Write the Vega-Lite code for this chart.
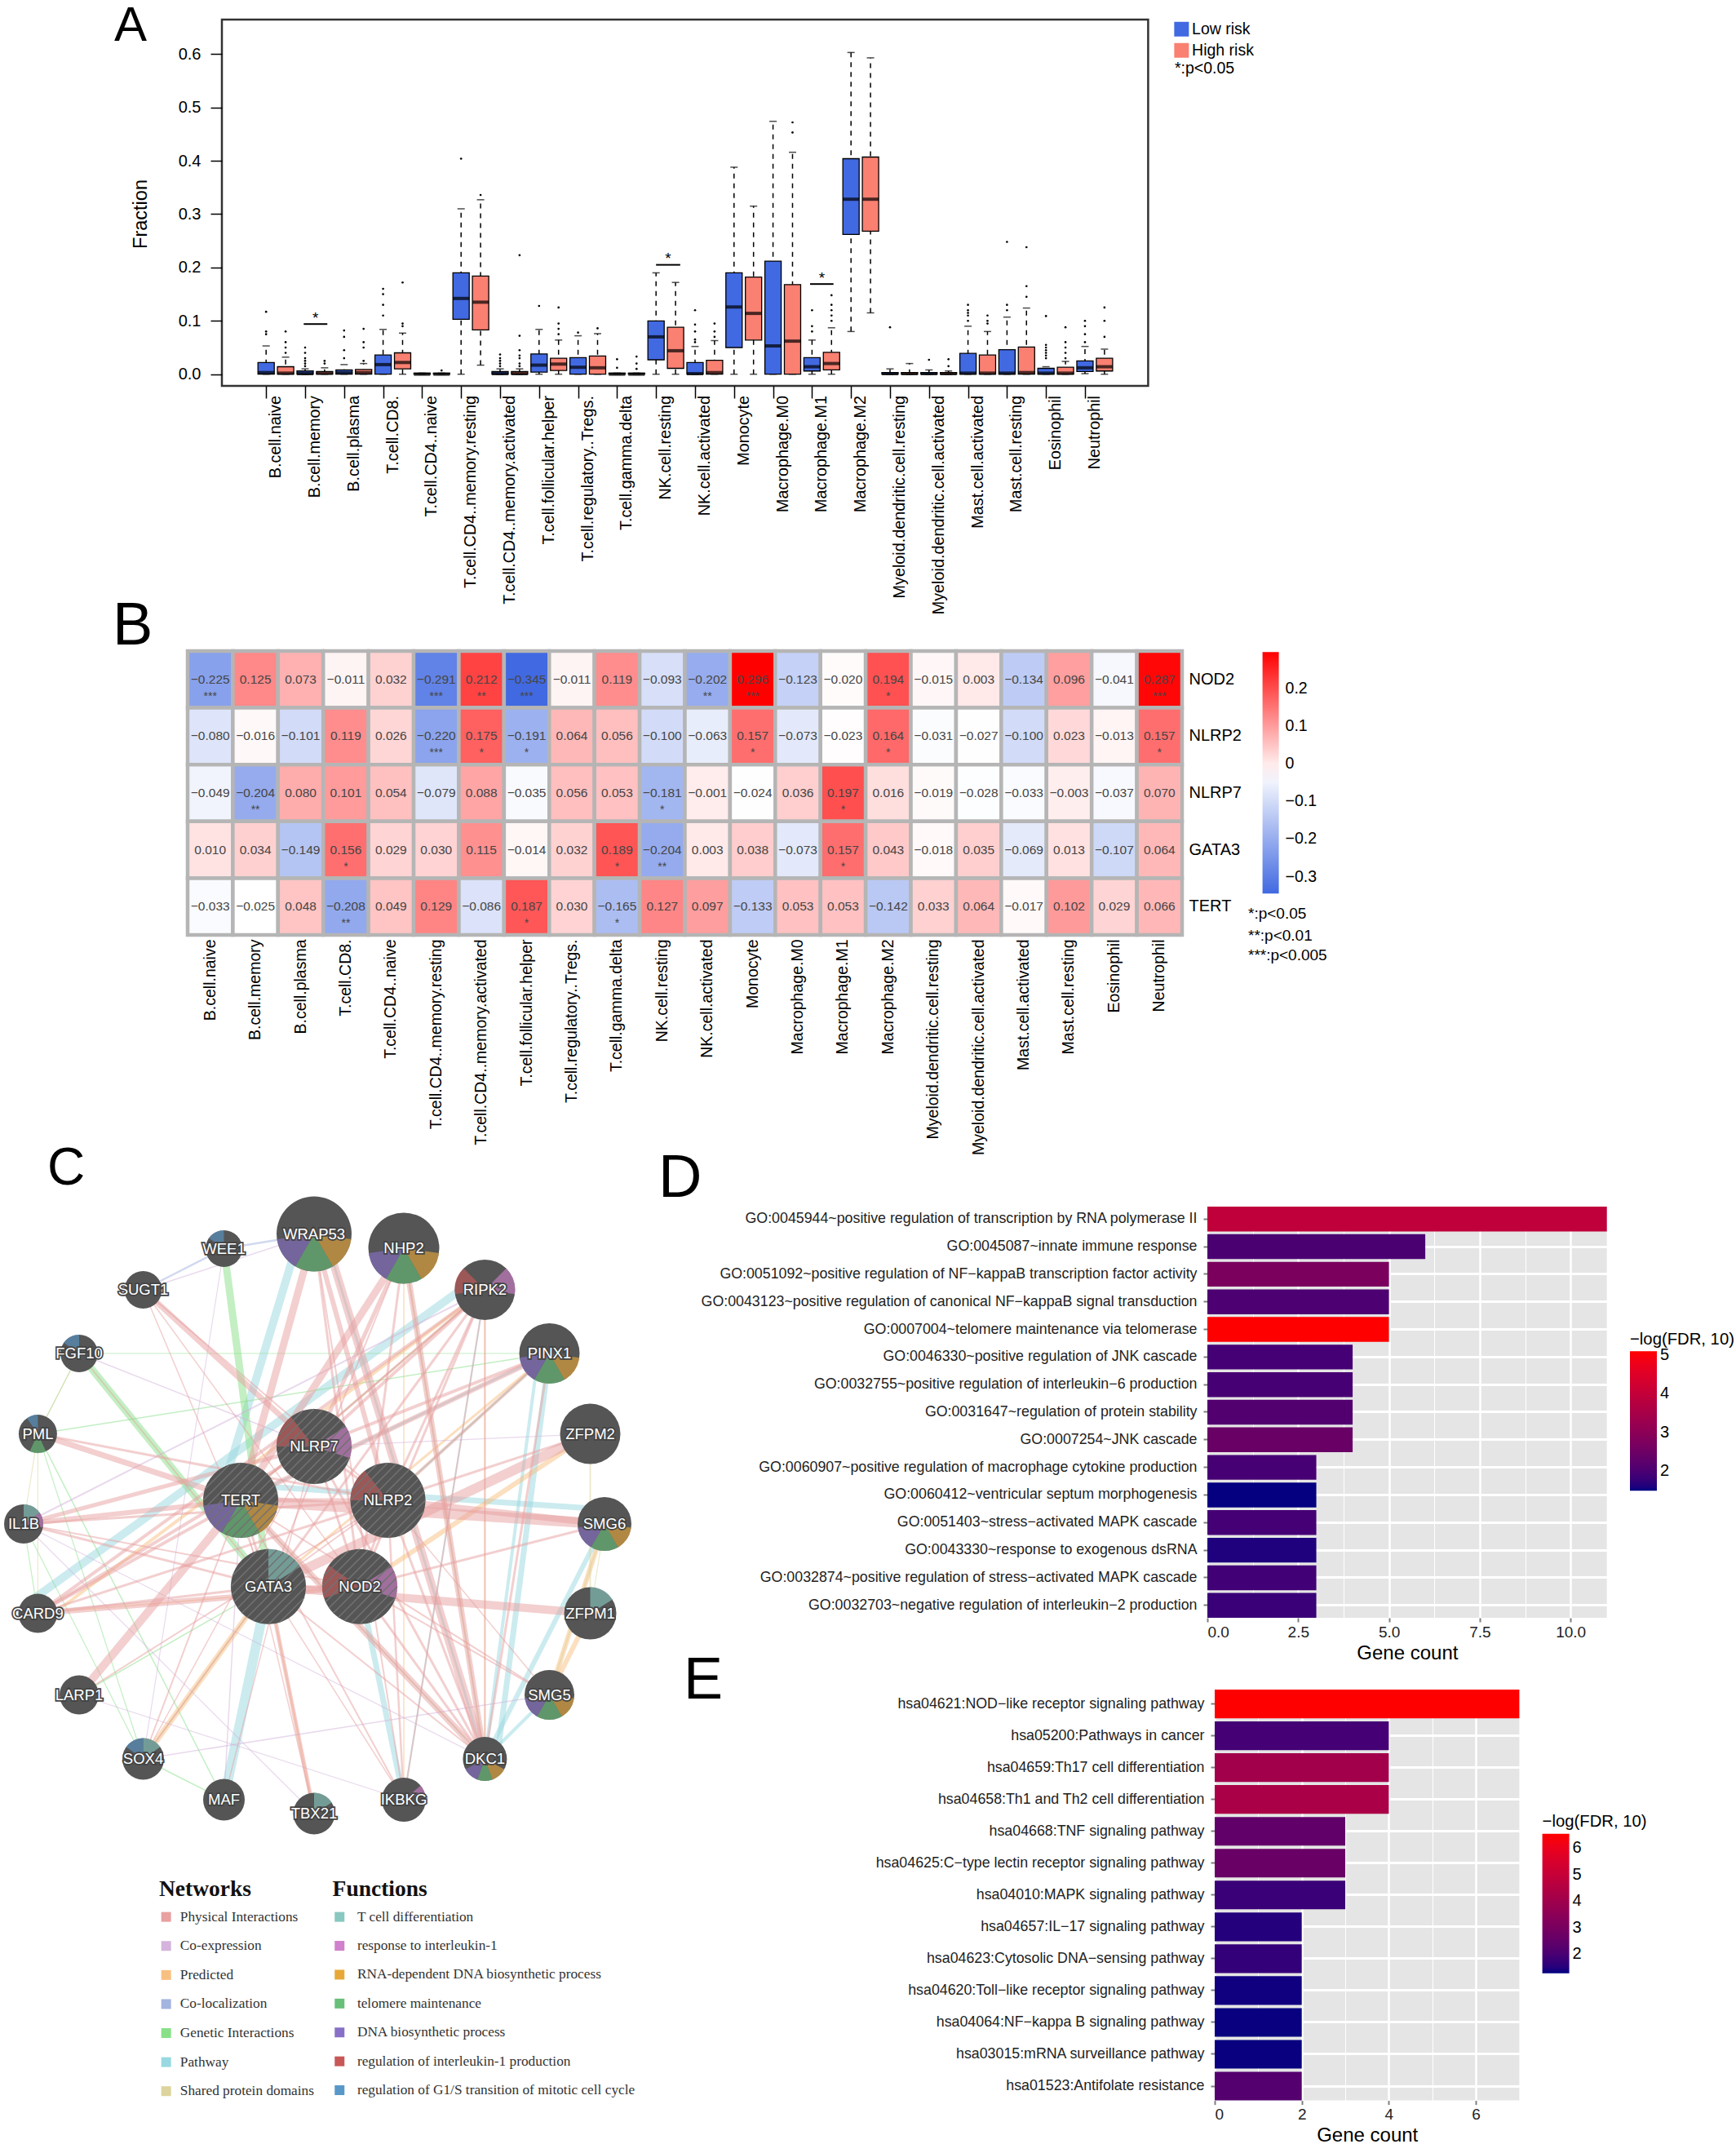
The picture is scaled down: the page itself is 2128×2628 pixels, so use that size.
{"$schema":"https://vega.github.io/schema/vega-lite/v6.json","background":"white","padding":0,"bounds":"flush","spacing":0,
"config":{"font":"Liberation Sans","view":{"stroke":null},"axis":{"grid":false,"titleFontWeight":"normal"},"concat":{"spacing":0}},
"datasets":{
"boxes":[
{"p":0,"g":"Low risk","lo":0,"q1":0,"m":0.003,"q3":0.022,"hi":0.053},{"p":1,"g":"High risk","lo":0,"q1":0,"m":0.002,"q3":0.014,"hi":0.032},
{"p":2,"g":"Low risk","lo":0,"q1":0,"m":0.001,"q3":0.006,"hi":0.01},{"p":3,"g":"High risk","lo":0,"q1":0,"m":0.002,"q3":0.005,"hi":0.012},
{"p":4,"g":"Low risk","lo":0,"q1":0,"m":0.003,"q3":0.008,"hi":0.018},{"p":5,"g":"High risk","lo":0,"q1":0,"m":0.003,"q3":0.009,"hi":0.02},
{"p":6,"g":"Low risk","lo":0,"q1":0,"m":0.018,"q3":0.036,"hi":0.084},{"p":7,"g":"High risk","lo":0,"q1":0.01,"m":0.022,"q3":0.04,"hi":0.077},
{"p":8,"g":"Low risk","lo":0,"q1":0,"m":0,"q3":0.002,"hi":0.002},{"p":9,"g":"High risk","lo":0,"q1":0,"m":0,"q3":0.002,"hi":0.002},
{"p":10,"g":"Low risk","lo":0,"q1":0.103,"m":0.142,"q3":0.19,"hi":0.31},{"p":11,"g":"High risk","lo":0.017,"q1":0.083,"m":0.135,"q3":0.184,"hi":0.327},
{"p":12,"g":"Low risk","lo":0,"q1":0,"m":0.001,"q3":0.005,"hi":0.01},{"p":13,"g":"High risk","lo":0,"q1":0,"m":0.001,"q3":0.005,"hi":0.01},
{"p":14,"g":"Low risk","lo":0,"q1":0.004,"m":0.017,"q3":0.038,"hi":0.084},{"p":15,"g":"High risk","lo":0,"q1":0.007,"m":0.019,"q3":0.03,"hi":0.064},
{"p":16,"g":"Low risk","lo":0,"q1":0,"m":0.013,"q3":0.031,"hi":0.072},{"p":17,"g":"High risk","lo":0,"q1":0,"m":0.012,"q3":0.034,"hi":0.076},
{"p":18,"g":"Low risk","lo":0,"q1":0,"m":0,"q3":0.002,"hi":0.002},{"p":19,"g":"High risk","lo":0,"q1":0,"m":0,"q3":0.002,"hi":0.002},
{"p":20,"g":"Low risk","lo":0,"q1":0.027,"m":0.07,"q3":0.1,"hi":0.19},{"p":21,"g":"High risk","lo":0,"q1":0.011,"m":0.044,"q3":0.088,"hi":0.172},
{"p":22,"g":"Low risk","lo":0,"q1":0,"m":0.001,"q3":0.022,"hi":0.052},{"p":23,"g":"High risk","lo":0,"q1":0,"m":0.003,"q3":0.026,"hi":0.063},
{"p":24,"g":"Low risk","lo":0,"q1":0.05,"m":0.126,"q3":0.19,"hi":0.388},{"p":25,"g":"High risk","lo":0,"q1":0.064,"m":0.114,"q3":0.182,"hi":0.315},
{"p":26,"g":"Low risk","lo":0,"q1":0,"m":0.053,"q3":0.212,"hi":0.474},{"p":27,"g":"High risk","lo":0,"q1":0,"m":0.062,"q3":0.168,"hi":0.416},
{"p":28,"g":"Low risk","lo":0,"q1":0.006,"m":0.014,"q3":0.031,"hi":0.064},{"p":29,"g":"High risk","lo":0,"q1":0.008,"m":0.02,"q3":0.041,"hi":0.087},
{"p":30,"g":"Low risk","lo":0.08,"q1":0.262,"m":0.328,"q3":0.404,"hi":0.603},{"p":31,"g":"High risk","lo":0.115,"q1":0.268,"m":0.328,"q3":0.407,"hi":0.593},
{"p":32,"g":"Low risk","lo":0,"q1":0,"m":0.001,"q3":0.003,"hi":0.01},{"p":33,"g":"High risk","lo":0,"q1":0,"m":0.001,"q3":0.003,"hi":0.02},
{"p":34,"g":"Low risk","lo":0,"q1":0,"m":0.001,"q3":0.003,"hi":0.008},{"p":35,"g":"High risk","lo":0,"q1":0,"m":0.001,"q3":0.003,"hi":0.006},
{"p":36,"g":"Low risk","lo":0,"q1":0,"m":0.002,"q3":0.039,"hi":0.09},{"p":37,"g":"High risk","lo":0,"q1":0,"m":0.002,"q3":0.036,"hi":0.08},
{"p":38,"g":"Low risk","lo":0,"q1":0,"m":0.002,"q3":0.046,"hi":0.107},{"p":39,"g":"High risk","lo":0,"q1":0,"m":0.003,"q3":0.051,"hi":0.124},
{"p":40,"g":"Low risk","lo":0,"q1":0,"m":0.002,"q3":0.011,"hi":0.014},{"p":41,"g":"High risk","lo":0,"q1":0,"m":0.002,"q3":0.013,"hi":0.024},
{"p":42,"g":"Low risk","lo":0.001,"q1":0.005,"m":0.012,"q3":0.025,"hi":0.052},{"p":43,"g":"High risk","lo":0,"q1":0.006,"m":0.014,"q3":0.03,"hi":0.047}],
"outliers":[
{"p":0,"v":0.075},{"p":0,"v":0.08},{"p":0,"v":0.117},{"p":1,"v":0.04},{"p":1,"v":0.05},{"p":1,"v":0.06},{"p":1,"v":0.08},
{"p":2,"v":0.015},{"p":2,"v":0.02},{"p":2,"v":0.025},{"p":2,"v":0.03},{"p":2,"v":0.04},{"p":2,"v":0.05},{"p":3,"v":0.02},{"p":3,"v":0.025},
{"p":4,"v":0.03},{"p":4,"v":0.045},{"p":4,"v":0.07},{"p":4,"v":0.082},{"p":5,"v":0.025},{"p":5,"v":0.05},{"p":5,"v":0.06},{"p":5,"v":0.085},
{"p":6,"v":0.11},{"p":6,"v":0.13},{"p":6,"v":0.15},{"p":6,"v":0.16},{"p":7,"v":0.09},{"p":7,"v":0.095},{"p":7,"v":0.172},{"p":9,"v":0.007},
{"p":10,"v":0.404},{"p":11,"v":0.336},
{"p":12,"v":0.015},{"p":12,"v":0.02},{"p":12,"v":0.025},{"p":12,"v":0.03},{"p":12,"v":0.037},{"p":13,"v":0.015},{"p":13,"v":0.02},{"p":13,"v":0.03},{"p":13,"v":0.035},{"p":13,"v":0.045},{"p":13,"v":0.072},{"p":13,"v":0.223},
{"p":14,"v":0.128},{"p":15,"v":0.075},{"p":15,"v":0.085},{"p":15,"v":0.095},{"p":15,"v":0.125},{"p":16,"v":0.078},{"p":17,"v":0.086},
{"p":18,"v":0.012},{"p":18,"v":0.028},{"p":19,"v":0.01},{"p":19,"v":0.02},{"p":19,"v":0.033},
{"p":22,"v":0.06},{"p":22,"v":0.065},{"p":22,"v":0.08},{"p":22,"v":0.093},{"p":22,"v":0.12},{"p":23,"v":0.07},{"p":23,"v":0.08},{"p":23,"v":0.095},
{"p":27,"v":0.453},{"p":27,"v":0.472},
{"p":28,"v":0.08},{"p":28,"v":0.09},{"p":28,"v":0.12},{"p":29,"v":0.1},{"p":29,"v":0.11},{"p":29,"v":0.12},{"p":29,"v":0.13},{"p":29,"v":0.148},
{"p":32,"v":0.088},{"p":34,"v":0.027},{"p":35,"v":0.015},{"p":35,"v":0.028},
{"p":36,"v":0.1},{"p":36,"v":0.11},{"p":36,"v":0.115},{"p":36,"v":0.12},{"p":36,"v":0.13},{"p":37,"v":0.095},{"p":37,"v":0.1},{"p":37,"v":0.11},
{"p":38,"v":0.12},{"p":38,"v":0.13},{"p":38,"v":0.248},{"p":39,"v":0.145},{"p":39,"v":0.165},{"p":39,"v":0.238},
{"p":40,"v":0.03},{"p":40,"v":0.035},{"p":40,"v":0.04},{"p":40,"v":0.045},{"p":40,"v":0.05},{"p":40,"v":0.055},{"p":40,"v":0.109},{"p":41,"v":0.03},{"p":41,"v":0.04},{"p":41,"v":0.05},{"p":41,"v":0.06},{"p":41,"v":0.088},
{"p":42,"v":0.06},{"p":42,"v":0.075},{"p":42,"v":0.09},{"p":42,"v":0.1},{"p":43,"v":0.07},{"p":43,"v":0.1},{"p":43,"v":0.125}],
"cells":[{"name":"B.cell.naive","p":0.5},{"name":"B.cell.memory","p":2.5},{"name":"B.cell.plasma","p":4.5},{"name":"T.cell.CD8.","p":6.5},{"name":"T.cell.CD4..naive","p":8.5},{"name":"T.cell.CD4..memory.resting","p":10.5},{"name":"T.cell.CD4..memory.activated","p":12.5},{"name":"T.cell.follicular.helper","p":14.5},{"name":"T.cell.regulatory..Tregs.","p":16.5},{"name":"T.cell.gamma.delta","p":18.5},{"name":"NK.cell.resting","p":20.5},{"name":"NK.cell.activated","p":22.5},{"name":"Monocyte","p":24.5},{"name":"Macrophage.M0","p":26.5},{"name":"Macrophage.M1","p":28.5},{"name":"Macrophage.M2","p":30.5},{"name":"Myeloid.dendritic.cell.resting","p":32.5},{"name":"Myeloid.dendritic.cell.activated","p":34.5},{"name":"Mast.cell.activated","p":36.5},{"name":"Mast.cell.resting","p":38.5},{"name":"Eosinophil","p":40.5},{"name":"Neutrophil","p":42.5}],
"heat":[
{"g":"NOD2","c":"B.cell.naive","r":-0.225,"s":"***"},{"g":"NOD2","c":"B.cell.memory","r":0.125},{"g":"NOD2","c":"B.cell.plasma","r":0.073},{"g":"NOD2","c":"T.cell.CD8.","r":-0.011},{"g":"NOD2","c":"T.cell.CD4..naive","r":0.032},{"g":"NOD2","c":"T.cell.CD4..memory.resting","r":-0.291,"s":"***"},{"g":"NOD2","c":"T.cell.CD4..memory.activated","r":0.212,"s":"**"},{"g":"NOD2","c":"T.cell.follicular.helper","r":-0.345,"s":"***"},{"g":"NOD2","c":"T.cell.regulatory..Tregs.","r":-0.011},{"g":"NOD2","c":"T.cell.gamma.delta","r":0.119},{"g":"NOD2","c":"NK.cell.resting","r":-0.093},{"g":"NOD2","c":"NK.cell.activated","r":-0.202,"s":"**"},{"g":"NOD2","c":"Monocyte","r":0.296,"s":"***"},{"g":"NOD2","c":"Macrophage.M0","r":-0.123},{"g":"NOD2","c":"Macrophage.M1","r":-0.02},{"g":"NOD2","c":"Macrophage.M2","r":0.194,"s":"*"},{"g":"NOD2","c":"Myeloid.dendritic.cell.resting","r":-0.015},{"g":"NOD2","c":"Myeloid.dendritic.cell.activated","r":0.003},{"g":"NOD2","c":"Mast.cell.activated","r":-0.134},{"g":"NOD2","c":"Mast.cell.resting","r":0.096},{"g":"NOD2","c":"Eosinophil","r":-0.041},{"g":"NOD2","c":"Neutrophil","r":0.287,"s":"***"},
{"g":"NLRP2","c":"B.cell.naive","r":-0.08},{"g":"NLRP2","c":"B.cell.memory","r":-0.016},{"g":"NLRP2","c":"B.cell.plasma","r":-0.101},{"g":"NLRP2","c":"T.cell.CD8.","r":0.119},{"g":"NLRP2","c":"T.cell.CD4..naive","r":0.026},{"g":"NLRP2","c":"T.cell.CD4..memory.resting","r":-0.22,"s":"***"},{"g":"NLRP2","c":"T.cell.CD4..memory.activated","r":0.175,"s":"*"},{"g":"NLRP2","c":"T.cell.follicular.helper","r":-0.191,"s":"*"},{"g":"NLRP2","c":"T.cell.regulatory..Tregs.","r":0.064},{"g":"NLRP2","c":"T.cell.gamma.delta","r":0.056},{"g":"NLRP2","c":"NK.cell.resting","r":-0.1},{"g":"NLRP2","c":"NK.cell.activated","r":-0.063},{"g":"NLRP2","c":"Monocyte","r":0.157,"s":"*"},{"g":"NLRP2","c":"Macrophage.M0","r":-0.073},{"g":"NLRP2","c":"Macrophage.M1","r":-0.023},{"g":"NLRP2","c":"Macrophage.M2","r":0.164,"s":"*"},{"g":"NLRP2","c":"Myeloid.dendritic.cell.resting","r":-0.031},{"g":"NLRP2","c":"Myeloid.dendritic.cell.activated","r":-0.027},{"g":"NLRP2","c":"Mast.cell.activated","r":-0.1},{"g":"NLRP2","c":"Mast.cell.resting","r":0.023},{"g":"NLRP2","c":"Eosinophil","r":-0.013},{"g":"NLRP2","c":"Neutrophil","r":0.157,"s":"*"},
{"g":"NLRP7","c":"B.cell.naive","r":-0.049},{"g":"NLRP7","c":"B.cell.memory","r":-0.204,"s":"**"},{"g":"NLRP7","c":"B.cell.plasma","r":0.08},{"g":"NLRP7","c":"T.cell.CD8.","r":0.101},{"g":"NLRP7","c":"T.cell.CD4..naive","r":0.054},{"g":"NLRP7","c":"T.cell.CD4..memory.resting","r":-0.079},{"g":"NLRP7","c":"T.cell.CD4..memory.activated","r":0.088},{"g":"NLRP7","c":"T.cell.follicular.helper","r":-0.035},{"g":"NLRP7","c":"T.cell.regulatory..Tregs.","r":0.056},{"g":"NLRP7","c":"T.cell.gamma.delta","r":0.053},{"g":"NLRP7","c":"NK.cell.resting","r":-0.181,"s":"*"},{"g":"NLRP7","c":"NK.cell.activated","r":-0.001},{"g":"NLRP7","c":"Monocyte","r":-0.024},{"g":"NLRP7","c":"Macrophage.M0","r":0.036},{"g":"NLRP7","c":"Macrophage.M1","r":0.197,"s":"*"},{"g":"NLRP7","c":"Macrophage.M2","r":0.016},{"g":"NLRP7","c":"Myeloid.dendritic.cell.resting","r":-0.019},{"g":"NLRP7","c":"Myeloid.dendritic.cell.activated","r":-0.028},{"g":"NLRP7","c":"Mast.cell.activated","r":-0.033},{"g":"NLRP7","c":"Mast.cell.resting","r":-0.003},{"g":"NLRP7","c":"Eosinophil","r":-0.037},{"g":"NLRP7","c":"Neutrophil","r":0.07},
{"g":"GATA3","c":"B.cell.naive","r":0.01},{"g":"GATA3","c":"B.cell.memory","r":0.034},{"g":"GATA3","c":"B.cell.plasma","r":-0.149},{"g":"GATA3","c":"T.cell.CD8.","r":0.156,"s":"*"},{"g":"GATA3","c":"T.cell.CD4..naive","r":0.029},{"g":"GATA3","c":"T.cell.CD4..memory.resting","r":0.03},{"g":"GATA3","c":"T.cell.CD4..memory.activated","r":0.115},{"g":"GATA3","c":"T.cell.follicular.helper","r":-0.014},{"g":"GATA3","c":"T.cell.regulatory..Tregs.","r":0.032},{"g":"GATA3","c":"T.cell.gamma.delta","r":0.189,"s":"*"},{"g":"GATA3","c":"NK.cell.resting","r":-0.204,"s":"**"},{"g":"GATA3","c":"NK.cell.activated","r":0.003},{"g":"GATA3","c":"Monocyte","r":0.038},{"g":"GATA3","c":"Macrophage.M0","r":-0.073},{"g":"GATA3","c":"Macrophage.M1","r":0.157,"s":"*"},{"g":"GATA3","c":"Macrophage.M2","r":0.043},{"g":"GATA3","c":"Myeloid.dendritic.cell.resting","r":-0.018},{"g":"GATA3","c":"Myeloid.dendritic.cell.activated","r":0.035},{"g":"GATA3","c":"Mast.cell.activated","r":-0.069},{"g":"GATA3","c":"Mast.cell.resting","r":0.013},{"g":"GATA3","c":"Eosinophil","r":-0.107},{"g":"GATA3","c":"Neutrophil","r":0.064},
{"g":"TERT","c":"B.cell.naive","r":-0.033},{"g":"TERT","c":"B.cell.memory","r":-0.025},{"g":"TERT","c":"B.cell.plasma","r":0.048},{"g":"TERT","c":"T.cell.CD8.","r":-0.208,"s":"**"},{"g":"TERT","c":"T.cell.CD4..naive","r":0.049},{"g":"TERT","c":"T.cell.CD4..memory.resting","r":0.129},{"g":"TERT","c":"T.cell.CD4..memory.activated","r":-0.086},{"g":"TERT","c":"T.cell.follicular.helper","r":0.187,"s":"*"},{"g":"TERT","c":"T.cell.regulatory..Tregs.","r":0.03},{"g":"TERT","c":"T.cell.gamma.delta","r":-0.165,"s":"*"},{"g":"TERT","c":"NK.cell.resting","r":0.127},{"g":"TERT","c":"NK.cell.activated","r":0.097},{"g":"TERT","c":"Monocyte","r":-0.133},{"g":"TERT","c":"Macrophage.M0","r":0.053},{"g":"TERT","c":"Macrophage.M1","r":0.053},{"g":"TERT","c":"Macrophage.M2","r":-0.142},{"g":"TERT","c":"Myeloid.dendritic.cell.resting","r":0.033},{"g":"TERT","c":"Myeloid.dendritic.cell.activated","r":0.064},{"g":"TERT","c":"Mast.cell.activated","r":-0.017},{"g":"TERT","c":"Mast.cell.resting","r":0.102},{"g":"TERT","c":"Eosinophil","r":0.029},{"g":"TERT","c":"Neutrophil","r":0.066}],
"nodes":[
{"id":"WRAP53","x":385,"y":1512.5,"score":46},{"id":"NHP2","x":495,"y":1530,"score":43.5},{"id":"WEE1","x":274.5,"y":1530.5,"score":22.5},{"id":"SUGT1","x":175.5,"y":1581,"score":23},{"id":"RIPK2","x":594.4,"y":1581,"score":37},{"id":"FGF10","x":97,"y":1659,"score":23},{"id":"PINX1","x":673.5,"y":1659,"score":37},{"id":"PML","x":46.4,"y":1757.6,"score":23.5},{"id":"ZFPM2","x":723.5,"y":1757.6,"score":37},{"id":"NLRP7","x":385,"y":1773,"score":46,"q":1},{"id":"TERT","x":295,"y":1839,"score":46,"q":1},{"id":"NLRP2","x":475.5,"y":1839,"score":46,"q":1},{"id":"IL1B","x":29,"y":1868,"score":24},{"id":"SMG6","x":741,"y":1868,"score":33},{"id":"GATA3","x":329,"y":1944.7,"score":46,"q":1},{"id":"NOD2","x":441,"y":1944.7,"score":46,"q":1},{"id":"CARD9","x":46.4,"y":1977.6,"score":24},{"id":"ZFPM1","x":723.5,"y":1977.6,"score":32},{"id":"LARP1","x":97,"y":2077.5,"score":24},{"id":"SMG5","x":673.5,"y":2077.5,"score":30.5},{"id":"SOX4","x":175.5,"y":2156,"score":25.5},{"id":"DKC1","x":594.4,"y":2156,"score":27},{"id":"MAF","x":274.5,"y":2206,"score":25.5},{"id":"IKBKG","x":495,"y":2206,"score":27},{"id":"TBX21","x":385,"y":2223,"score":25.5},
{"id":"WRAP53t","x":368,"y":1512,"score":0},{"id":"TERTt","x":270,"y":1835,"score":0},{"id":"SMG6t","x":741,"y":1850,"score":0},{"id":"TERTu","x":295,"y":1820,"score":0},{"id":"CARD9t","x":38,"y":1962,"score":0},{"id":"RIPK2t","x":580,"y":1570,"score":0},{"id":"CARD9o","x":56,"y":1985,"score":0},{"id":"PINX1t","x":660,"y":1659,"score":0},{"id":"DKC1t","x":610,"y":2150,"score":0},{"id":"WRAP53u","x":400,"y":1520,"score":0}],
"edges":[
{"a":"WRAP53t","b":"TERTt","t":"Pathway","w":10},{"a":"CARD9t","b":"RIPK2t","t":"Pathway","w":10},{"a":"MAF","b":"GATA3","t":"Pathway","w":12},{"a":"PINX1","b":"DKC1t","t":"Pathway","w":7},{"a":"PINX1t","b":"DKC1","t":"Pathway","w":4},{"a":"SMG6","b":"DKC1","t":"Pathway","w":6},{"a":"SMG5","b":"DKC1","t":"Pathway","w":4},{"a":"WRAP53u","b":"DKC1","t":"Pathway","w":3},{"a":"NHP2","b":"DKC1","t":"Pathway","w":2},{"a":"IKBKG","b":"NOD2","t":"Pathway","w":7},{"a":"IKBKG","b":"RIPK2","t":"Pathway","w":2},{"a":"SMG6t","b":"TERTu","t":"Pathway","w":7},{"a":"PINX1","b":"TERT","t":"Pathway","w":3},{"a":"RIPK2","b":"TERT","t":"Pathway","w":2},{"a":"PINX1","b":"NLRP2","t":"Pathway","w":2},{"a":"DKC1","b":"TERT","t":"Pathway","w":2},
{"a":"WEE1","b":"GATA3","t":"Genetic Interactions","w":9},{"a":"FGF10","b":"GATA3","t":"Genetic Interactions","w":9},{"a":"PML","b":"PINX1","t":"Genetic Interactions","w":1.5},{"a":"FGF10","b":"PML","t":"Genetic Interactions","w":1.2},{"a":"FGF10","b":"PINX1","t":"Genetic Interactions","w":1.2},{"a":"PML","b":"SOX4","t":"Genetic Interactions","w":1.2},{"a":"PML","b":"MAF","t":"Genetic Interactions","w":1.5},{"a":"IL1B","b":"CARD9","t":"Genetic Interactions","w":1.2},{"a":"IL1B","b":"SOX4","t":"Genetic Interactions","w":1.2},{"a":"LARP1","b":"GATA3","t":"Genetic Interactions","w":1.5},{"a":"SOX4","b":"MAF","t":"Genetic Interactions","w":1.5},{"a":"SOX4","b":"GATA3","t":"Genetic Interactions","w":1.2},{"a":"PINX1","b":"NLRP2","t":"Genetic Interactions","w":1.2},
{"a":"SOX4","b":"GATA3","t":"Predicted","w":7},{"a":"CARD9o","b":"RIPK2","t":"Predicted","w":4},{"a":"ZFPM2","b":"NOD2","t":"Predicted","w":6},{"a":"SMG5","b":"SMG6","t":"Predicted","w":6},{"a":"ZFPM1","b":"SMG5","t":"Predicted","w":6},{"a":"TBX21","b":"GATA3","t":"Predicted","w":2.5},{"a":"RIPK2","b":"DKC1","t":"Predicted","w":1.5},{"a":"NHP2","b":"DKC1","t":"Predicted","w":2},{"a":"NHP2","b":"IKBKG","t":"Predicted","w":1.5},{"a":"RIPK2","b":"TERT","t":"Predicted","w":2},{"a":"PINX1","b":"GATA3","t":"Predicted","w":3},{"a":"CARD9","b":"NOD2","t":"Predicted","w":1.5},{"a":"DKC1","b":"TERT","t":"Predicted","w":1.5},
{"a":"IL1B","b":"RIPK2","t":"Co-expression","w":2},{"a":"SOX4","b":"SMG5","t":"Co-expression","w":1.5},{"a":"SUGT1","b":"WRAP53","t":"Co-expression","w":1.5},{"a":"WEE1","b":"SOX4","t":"Co-expression","w":1.2},{"a":"FGF10","b":"NLRP7","t":"Co-expression","w":1.5},{"a":"IL1B","b":"DKC1","t":"Co-expression","w":1.2},{"a":"ZFPM2","b":"NLRP7","t":"Co-expression","w":1.2},{"a":"LARP1","b":"IKBKG","t":"Co-expression","w":1.2},{"a":"IL1B","b":"TBX21","t":"Co-expression","w":1.2},{"a":"MAF","b":"TERT","t":"Co-expression","w":1.5},
{"a":"WEE1","b":"WRAP53","t":"Co-localization","w":2.5},{"a":"SUGT1","b":"WEE1","t":"Co-localization","w":2.5},
{"a":"ZFPM1","b":"ZFPM2","t":"Shared protein domains","w":2},{"a":"SMG5","b":"SMG6","t":"Shared protein domains","w":2},{"a":"FGF10","b":"PML","t":"Shared protein domains","w":1.2},{"a":"PML","b":"IL1B","t":"Shared protein domains","w":1.2},{"a":"PML","b":"CARD9","t":"Shared protein domains","w":1.2},{"a":"SMG6","b":"ZFPM1","t":"Shared protein domains","w":1.2},
{"a":"WRAP53","b":"TERT","t":"Physical Interactions","w":9},{"a":"WRAP53","b":"NLRP2","t":"Physical Interactions","w":6},{"a":"WRAP53u","b":"DKC1","t":"Physical Interactions","w":10},{"a":"WRAP53","b":"NOD2","t":"Physical Interactions","w":3},{"a":"NHP2","b":"TERT","t":"Physical Interactions","w":9},{"a":"NHP2","b":"DKC1","t":"Physical Interactions","w":7},{"a":"NHP2","b":"GATA3","t":"Physical Interactions","w":2},{"a":"NHP2","b":"NLRP7","t":"Physical Interactions","w":5},{"a":"NHP2","b":"NOD2","t":"Physical Interactions","w":3},{"a":"RIPK2","b":"NLRP7","t":"Physical Interactions","w":4},{"a":"RIPK2","b":"NLRP2","t":"Physical Interactions","w":3},{"a":"RIPK2","b":"NOD2","t":"Physical Interactions","w":3},{"a":"RIPK2","b":"TERT","t":"Physical Interactions","w":3},{"a":"RIPK2","b":"GATA3","t":"Physical Interactions","w":3},{"a":"RIPK2","b":"CARD9","t":"Physical Interactions","w":4},{"a":"RIPK2","b":"IKBKG","t":"Physical Interactions","w":2},{"a":"RIPK2","b":"DKC1","t":"Physical Interactions","w":2},{"a":"PINX1","b":"TERT","t":"Physical Interactions","w":6},{"a":"PINX1","b":"DKC1","t":"Physical Interactions","w":3},{"a":"PINX1","b":"NLRP7","t":"Physical Interactions","w":4},{"a":"PINX1","b":"NLRP2","t":"Physical Interactions","w":4},{"a":"ZFPM2","b":"GATA3","t":"Physical Interactions","w":12},{"a":"ZFPM2","b":"NLRP2","t":"Physical Interactions","w":3},{"a":"ZFPM1","b":"GATA3","t":"Physical Interactions","w":10},{"a":"SMG6","b":"TERT","t":"Physical Interactions","w":13},{"a":"SMG6","b":"NLRP2","t":"Physical Interactions","w":8},{"a":"SMG6","b":"NOD2","t":"Physical Interactions","w":3},{"a":"SMG5","b":"TERT","t":"Physical Interactions","w":2},{"a":"SMG5","b":"NLRP2","t":"Physical Interactions","w":1.5},{"a":"SMG5","b":"NOD2","t":"Physical Interactions","w":2},{"a":"DKC1","b":"TERT","t":"Physical Interactions","w":8},{"a":"DKC1","b":"NOD2","t":"Physical Interactions","w":3},{"a":"DKC1","b":"GATA3","t":"Physical Interactions","w":2},{"a":"DKC1","b":"NLRP2","t":"Physical Interactions","w":3},{"a":"DKC1","b":"NLRP7","t":"Physical Interactions","w":3},{"a":"IL1B","b":"TERT","t":"Physical Interactions","w":6},{"a":"IL1B","b":"NLRP7","t":"Physical Interactions","w":5},{"a":"IL1B","b":"NLRP2","t":"Physical Interactions","w":3},{"a":"IL1B","b":"NOD2","t":"Physical Interactions","w":2},{"a":"IL1B","b":"GATA3","t":"Physical Interactions","w":3},{"a":"PML","b":"TERT","t":"Physical Interactions","w":7},{"a":"PML","b":"NLRP2","t":"Physical Interactions","w":3},{"a":"CARD9","b":"NOD2","t":"Physical Interactions","w":7},{"a":"CARD9","b":"GATA3","t":"Physical Interactions","w":3},{"a":"CARD9","b":"NLRP2","t":"Physical Interactions","w":3},{"a":"CARD9","b":"NLRP7","t":"Physical Interactions","w":4},{"a":"CARD9","b":"TERT","t":"Physical Interactions","w":4},{"a":"LARP1","b":"TERT","t":"Physical Interactions","w":10},{"a":"LARP1","b":"NLRP2","t":"Physical Interactions","w":2},{"a":"SUGT1","b":"NLRP7","t":"Physical Interactions","w":7},{"a":"SUGT1","b":"NLRP2","t":"Physical Interactions","w":2},{"a":"SUGT1","b":"GATA3","t":"Physical Interactions","w":1.5},{"a":"SUGT1","b":"NOD2","t":"Physical Interactions","w":1.5},{"a":"FGF10","b":"GATA3","t":"Physical Interactions","w":1.5},{"a":"MAF","b":"NLRP7","t":"Physical Interactions","w":1.5},{"a":"SOX4","b":"TERT","t":"Physical Interactions","w":2},{"a":"SOX4","b":"NLRP7","t":"Physical Interactions","w":1.5},{"a":"SOX4","b":"GATA3","t":"Physical Interactions","w":2},{"a":"TBX21","b":"GATA3","t":"Physical Interactions","w":5},{"a":"TBX21","b":"TERT","t":"Physical Interactions","w":1.5},{"a":"IKBKG","b":"NLRP2","t":"Physical Interactions","w":2.5},{"a":"IKBKG","b":"TERT","t":"Physical Interactions","w":2},{"a":"IKBKG","b":"GATA3","t":"Physical Interactions","w":1.5},{"a":"IKBKG","b":"WRAP53","t":"Physical Interactions","w":2},{"a":"NLRP2","b":"NLRP7","t":"Physical Interactions","w":3},{"a":"NLRP7","b":"NOD2","t":"Physical Interactions","w":3},{"a":"NLRP2","b":"NOD2","t":"Physical Interactions","w":3},{"a":"TERT","b":"NLRP2","t":"Physical Interactions","w":5},{"a":"GATA3","b":"NOD2","t":"Physical Interactions","w":3},{"a":"TERT","b":"GATA3","t":"Physical Interactions","w":3},{"a":"GATA3","b":"NLRP2","t":"Physical Interactions","w":2}],
"wedges":[
{"id":"WRAP53","f":"RNA-dependent DNA biosynthetic process","a0":98,"a1":150},{"id":"WRAP53","f":"telomere maintenance","a0":150,"a1":210},{"id":"WRAP53","f":"DNA biosynthetic process","a0":210,"a1":262},
{"id":"NHP2","f":"RNA-dependent DNA biosynthetic process","a0":98,"a1":150},{"id":"NHP2","f":"telomere maintenance","a0":150,"a1":210},{"id":"NHP2","f":"DNA biosynthetic process","a0":210,"a1":262},
{"id":"TERT","f":"RNA-dependent DNA biosynthetic process","a0":98,"a1":150},{"id":"TERT","f":"telomere maintenance","a0":150,"a1":210},{"id":"TERT","f":"DNA biosynthetic process","a0":210,"a1":262},
{"id":"PINX1","f":"RNA-dependent DNA biosynthetic process","a0":98,"a1":150},{"id":"PINX1","f":"telomere maintenance","a0":150,"a1":210},{"id":"PINX1","f":"DNA biosynthetic process","a0":210,"a1":262},
{"id":"SMG6","f":"RNA-dependent DNA biosynthetic process","a0":98,"a1":150},{"id":"SMG6","f":"telomere maintenance","a0":150,"a1":210},{"id":"SMG6","f":"DNA biosynthetic process","a0":210,"a1":262},
{"id":"SMG5","f":"RNA-dependent DNA biosynthetic process","a0":98,"a1":150},{"id":"SMG5","f":"telomere maintenance","a0":150,"a1":210},{"id":"SMG5","f":"DNA biosynthetic process","a0":210,"a1":262},
{"id":"DKC1","f":"RNA-dependent DNA biosynthetic process","a0":118,"a1":160},{"id":"DKC1","f":"telomere maintenance","a0":160,"a1":200},{"id":"DKC1","f":"DNA biosynthetic process","a0":200,"a1":242},
{"id":"NLRP7","f":"response to interleukin-1","a0":58,"a1":108},{"id":"NLRP7","f":"regulation of interleukin-1 production","a0":270,"a1":322},
{"id":"NLRP2","f":"regulation of interleukin-1 production","a0":270,"a1":322},
{"id":"NOD2","f":"response to interleukin-1","a0":58,"a1":108},{"id":"NOD2","f":"regulation of interleukin-1 production","a0":252,"a1":304},
{"id":"RIPK2","f":"response to interleukin-1","a0":45,"a1":98},{"id":"RIPK2","f":"regulation of interleukin-1 production","a0":262,"a1":315},
{"id":"GATA3","f":"T cell differentiation","a0":0,"a1":58},{"id":"ZFPM1","f":"T cell differentiation","a0":0,"a1":58},{"id":"TBX21","f":"T cell differentiation","a0":0,"a1":58},
{"id":"SOX4","f":"T cell differentiation","a0":0,"a1":55},{"id":"SOX4","f":"regulation of G1/S transition of mitotic cell cycle","a0":305,"a1":360},
{"id":"WEE1","f":"regulation of G1/S transition of mitotic cell cycle","a0":305,"a1":360},{"id":"FGF10","f":"regulation of G1/S transition of mitotic cell cycle","a0":305,"a1":360},
{"id":"PML","f":"regulation of G1/S transition of mitotic cell cycle","a0":325,"a1":360},{"id":"PML","f":"telomere maintenance","a0":155,"a1":205},
{"id":"IL1B","f":"T cell differentiation","a0":0,"a1":55},{"id":"IL1B","f":"response to interleukin-1","a0":55,"a1":100},{"id":"IKBKG","f":"response to interleukin-1","a0":50,"a1":72}]
},
"vconcat":[
{"width":2128,"height":24,"data":{"values":[{"a":1}]},"mark":{"type":"point","opacity":0},"encoding":{}},
{"hconcat":[
{"width":271.6,"height":449,"data":{"values":[{"panel":"A","x":140,"y":50}]},"mark":{"type":"text","fontSize":60,"align":"left","baseline":"alphabetic"},"encoding":{"text":{"field":"panel"},"x":{"field":"x","type":"quantitative","scale":{"domain":[0,271.6]},"axis":null},"y":{"field":"y","type":"quantitative","scale":{"domain":[24,473],"reverse":true},"axis":null}}},
{"width":1135.4,"height":449,"view":{"stroke":"#333333","strokeWidth":2.5},
"layer":[
{"data":{"name":"boxes"},"mark":{"type":"rule","strokeDash":[6,6],"strokeWidth":1.5,"color":"black"},"encoding":{"x":{"field":"p","type":"quantitative","scale":{"domain":[-2.268,45.24],"nice":false,"zero":false,"padding":0},"axis":{"values":[0,1,2,3,4,5,6,7,8,9,10,11,12,13,14,15,16,17,18,19,20,21,22,23,24,25,26,27,28,29,30,31,32,33,34,35,36,37,38,39,40,41,42,43],"title":null,"domain":false,"tickSize":15,"tickWidth":1.5,"tickColor":"black","labels":false}},"y":{"field":"lo","type":"quantitative","scale":{"domain":[-0.0219,0.6647],"nice":false,"zero":false},"axis":{"values":[0,0.1,0.2,0.3,0.4,0.5,0.6],"format":".1f","title":"Fraction","titleFontSize":23.5,"titlePadding":34,"titleY":238,"titleColor":"black","domain":false,"tickSize":14,"tickWidth":1.5,"tickColor":"black","labelFontSize":20,"labelColor":"black","labelPadding":12}},"y2":{"field":"hi"}}},
{"data":{"name":"boxes"},"mark":{"type":"tick","orient":"horizontal","size":9,"thickness":1.5,"color":"black"},"encoding":{"x":{"field":"p","type":"quantitative"},"y":{"field":"hi","type":"quantitative"}}},
{"data":{"name":"boxes"},"mark":{"type":"tick","orient":"horizontal","size":9,"thickness":1.5,"color":"black"},"encoding":{"x":{"field":"p","type":"quantitative"},"y":{"field":"lo","type":"quantitative"}}},
{"data":{"name":"boxes"},"mark":{"type":"bar","orient":"vertical","size":20,"stroke":"black","strokeWidth":1.3},"encoding":{"x":{"field":"p","type":"quantitative"},"y":{"field":"q1","type":"quantitative"},"y2":{"field":"q3"},"color":{"field":"g","type":"nominal","scale":{"domain":["Low risk","High risk"],"range":["#4169E1","#FA8072"]},"legend":{"title":null,"orient":"none","legendX":1438.6,"legendY":2,"symbolType":"square","symbolSize":324,"symbolStrokeWidth":0,"labelFontSize":19.5,"labelColor":"black","labelOffset":3,"rowPadding":5}}}},
{"data":{"name":"boxes"},"mark":{"type":"tick","orient":"horizontal","size":20,"thickness":4,"color":"black"},"encoding":{"x":{"field":"p","type":"quantitative"},"y":{"field":"m","type":"quantitative"}}},
{"data":{"name":"outliers"},"mark":{"type":"point","filled":true,"size":7,"color":"black","opacity":1},"encoding":{"x":{"field":"p","type":"quantitative"},"y":{"field":"v","type":"quantitative"}}},
{"data":{"values":[{"p0":1.93,"p1":3.14,"y":0.094},{"p0":20,"p1":21.24,"y":0.205},{"p0":27.9,"p1":29.1,"y":0.169}]},"mark":{"type":"rule","strokeWidth":2,"color":"black"},"encoding":{"x":{"field":"p0","type":"quantitative"},"x2":{"field":"p1"},"y":{"field":"y","type":"quantitative"}}},
{"data":{"values":[{"p":2.53,"y":0.11,"t":"*"},{"p":20.62,"y":0.2207,"t":"*"},{"p":28.5,"y":0.184,"t":"*"}]},"mark":{"type":"text","fontSize":19,"baseline":"middle","dy":3},"encoding":{"x":{"field":"p","type":"quantitative"},"y":{"field":"y","type":"quantitative"},"text":{"field":"t"}}},
{"data":{"name":"cells"},"mark":{"type":"text","fontSize":19.8,"angle":270,"align":"right","baseline":"middle","dx":-12},"encoding":{"x":{"field":"p","type":"quantitative"},"y":{"datum":-0.0219,"type":"quantitative"},"text":{"field":"name"}}}
]},
{"width":200,"height":449,"data":{"values":[{"x":1439,"y":84,"t":"*:p<0.05"}]},"mark":{"type":"text","fontSize":19.5,"align":"left","baseline":"middle"},"encoding":{"text":{"field":"t"},"x":{"field":"x","type":"quantitative","scale":{"domain":[1407,1607]},"axis":null},"y":{"field":"y","type":"quantitative","scale":{"domain":[24,473],"reverse":true},"axis":null}}}
],"spacing":0,"bounds":"flush"},
{"width":10,"height":774,"data":{"values":[{"a":1}]},"mark":{"type":"point","opacity":0},"encoding":{}},
{"hconcat":[
{"width":230,"height":348,"data":{"values":[{"panel":"B","x":138,"y":790}]},"mark":{"type":"text","fontSize":74,"align":"left","baseline":"alphabetic"},"encoding":{"text":{"field":"panel"},"x":{"field":"x","type":"quantitative","scale":{"domain":[0,230]},"axis":null},"y":{"field":"y","type":"quantitative","scale":{"domain":[798,1146],"reverse":true},"axis":null}}},
{"width":1219,"height":348,"view":{"stroke":"#B5B5B5","strokeWidth":3},"data":{"name":"heat"},
"layer":[
{"mark":{"type":"rect","stroke":"#B5B5B5","strokeWidth":4.5},"encoding":{"x":{"field":"c","type":"nominal","sort":null,"scale":{"paddingInner":0,"paddingOuter":0},"axis":{"title":null,"domain":false,"ticks":false,"labelAngle":270,"labelAlign":"right","labelBaseline":"middle","labelFontSize":19.5,"labelColor":"black","labelPadding":5,"labelLimit":600}},"y":{"field":"g","type":"nominal","sort":null,"scale":{"paddingInner":0,"paddingOuter":0},"axis":{"orient":"right","title":null,"domain":false,"ticks":false,"labelFontSize":20,"labelColor":"black","labelPadding":8}},"color":{"field":"r","type":"quantitative","scale":{"domain":[-0.345,-0.025,0.296],"range":["#4169E1","#FFFFFF","#FF0000"],"interpolate":"rgb"},"legend":{"type":"gradient","title":null,"orient":"none","legendX":1547.6,"legendY":1.3,"direction":"vertical","gradientLength":296,"gradientThickness":20,"gradientStrokeWidth":0,"values":[-0.3,-0.2,-0.1,0,0.1,0.2],"labelExpr":"datum.value==0?'0':format(datum.value,'.1f')","labelFontSize":19.5,"labelColor":"black","labelOffset":8}}}},
{"mark":{"type":"text","fontSize":15.5,"color":"#454545"},"encoding":{"x":{"field":"c","type":"nominal","sort":null},"y":{"field":"g","type":"nominal","sort":null},"text":{"field":"r","type":"quantitative","format":".3f"}}},
{"transform":[{"filter":"datum.s"}],"mark":{"type":"text","fontSize":14,"color":"#454545","dy":21},"encoding":{"x":{"field":"c","type":"nominal","sort":null},"y":{"field":"g","type":"nominal","sort":null},"text":{"field":"s"}}}
]},
{"width":200,"height":348,"data":{"values":[{"x":1530,"y":1120,"t":"*:p<0.05"},{"x":1530,"y":1147,"t":"**:p<0.01"},{"x":1530,"y":1171,"t":"***:p<0.005"}]},"mark":{"type":"text","fontSize":19,"align":"left","baseline":"middle"},"encoding":{"text":{"field":"t"},"x":{"field":"x","type":"quantitative","scale":{"domain":[1449,1649]},"axis":null},"y":{"field":"y","type":"quantitative","scale":{"domain":[798,1146],"reverse":true},"axis":null}}}
],"spacing":0,"bounds":"flush"},
{"width":10,"height":348,"data":{"values":[{"a":1}]},"mark":{"type":"point","opacity":0},"encoding":{}},
{"hconcat":[
{"width":800,"height":1482,
"layer":[
{"data":{"values":[{"panel":"C","x":58,"y":1452}]},"mark":{"type":"text","fontSize":64,"align":"left","baseline":"alphabetic"},"encoding":{"text":{"field":"panel"},"x":{"field":"x","type":"quantitative","scale":{"domain":[0,800],"nice":false,"zero":false},"axis":null},"y":{"field":"y","type":"quantitative","scale":{"domain":[1146,2628],"reverse":true,"nice":false,"zero":false},"axis":null}}},
{"data":{"name":"edges"},"transform":[{"lookup":"a","from":{"data":{"name":"nodes"},"key":"id","fields":["x","y"]},"as":["x1","y1"]},{"lookup":"b","from":{"data":{"name":"nodes"},"key":"id","fields":["x","y"]},"as":["x2","y2"]}],"mark":{"type":"rule","opacity":0.5},"encoding":{"x":{"field":"x1","type":"quantitative"},"y":{"field":"y1","type":"quantitative"},"x2":{"field":"x2"},"y2":{"field":"y2"},"strokeWidth":{"field":"w","type":"quantitative","scale":null,"legend":null},"stroke":{"field":"t","type":"nominal","scale":{"domain":["Physical Interactions","Co-expression","Predicted","Co-localization","Genetic Interactions","Pathway","Shared protein domains"],"range":["#E8A0A0","#D4B4DC","#F8C080","#A4B4E0","#88E088","#98D8E0","#DCD49C"]},"legend":{"title":"Networks","orient":"none","legendX":195,"legendY":2301.5,"symbolType":"square","symbolSize":36,"symbolStrokeWidth":6,"symbolOpacity":1,"titleFont":"Liberation Serif","titleFontSize":27.5,"titleFontWeight":"bold","titleColor":"#111111","titlePadding":12,"labelFont":"Liberation Serif","labelFontSize":17.3,"labelColor":"#333333","labelOffset":8.5,"rowPadding":4.6,"labelLimit":400}}}},
{"data":{"name":"nodes"},"transform":[{"filter":"datum.score>0"}],"mark":{"type":"point","filled":true,"color":"#555555","opacity":1},"encoding":{"x":{"field":"x","type":"quantitative"},"y":{"field":"y","type":"quantitative"},"size":{"field":"score","type":"quantitative","scale":{"type":"pow","exponent":2,"domain":[0,46],"range":[0,8464]},"legend":null}}},
{"data":{"name":"wedges"},"transform":[{"lookup":"id","from":{"data":{"name":"nodes"},"key":"id","fields":["x","y","score"]}}],"mark":{"type":"arc","opacity":0.62},"encoding":{"x":{"field":"x","type":"quantitative"},"y":{"field":"y","type":"quantitative"},"theta":{"field":"a0","type":"quantitative","stack":null,"scale":{"domain":[0,360],"range":[0,6.28318]}},"theta2":{"field":"a1"},"radius":{"field":"score","type":"quantitative","scale":{"type":"linear","domain":[0,46],"range":[0,46]}},"fill":{"field":"f","type":"nominal","scale":{"domain":["T cell differentiation","response to interleukin-1","RNA-dependent DNA biosynthetic process","telomere maintenance","DNA biosynthetic process","regulation of interleukin-1 production","regulation of G1/S transition of mitotic cell cycle"],"range":["#88C8C0","#D080CC","#E8A838","#68C078","#8870C8","#C85858","#5898C8"]},"legend":{"title":"Functions","orient":"none","legendX":407.6,"legendY":2301.5,"symbolType":"square","symbolSize":144,"symbolStrokeWidth":0,"symbolOpacity":1,"titleFont":"Liberation Serif","titleFontSize":27.5,"titleFontWeight":"bold","titleColor":"#111111","titlePadding":12,"labelFont":"Liberation Serif","labelFontSize":17.3,"labelColor":"#333333","labelOffset":13,"rowPadding":17.4,"labelLimit":500}}}},
{"data":{"name":"nodes"},"transform":[{"filter":"datum.q"}],"mark":{"type":"point","filled":false,"size":8464,"stroke":"#727272","strokeWidth":1.5,"opacity":1,"shape":"M-0.707,0.707L0.707,-0.707M-0.571,0.821L0.821,-0.571M-0.821,0.571L0.571,-0.821M-0.411,0.911L0.911,-0.411M-0.911,0.411L0.411,-0.911M-0.225,0.975L0.975,-0.225M-0.975,0.225L0.225,-0.975M0,1L1,0M-1,0L0,-1M0.294,0.956L0.956,0.294M-0.956,-0.294L-0.294,-0.956"},"encoding":{"x":{"field":"x","type":"quantitative"},"y":{"field":"y","type":"quantitative"}}},
{"data":{"name":"nodes"},"transform":[{"filter":"datum.score>0"}],"mark":{"type":"text","fontSize":18.5,"stroke":"#444444","strokeWidth":3.5,"baseline":"middle","color":"#444444"},"encoding":{"x":{"field":"x","type":"quantitative"},"y":{"field":"y","type":"quantitative"},"text":{"field":"id"}}},
{"data":{"name":"nodes"},"transform":[{"filter":"datum.score>0"}],"mark":{"type":"text","fontSize":18.5,"baseline":"middle","color":"white"},"encoding":{"x":{"field":"x","type":"quantitative"},"y":{"field":"y","type":"quantitative"},"text":{"field":"id"}}}
]},
{"vconcat":[
{"width":10,"height":332.5,"data":{"values":[{"a":1}]},"mark":{"type":"point","opacity":0},"encoding":{}},
{"hconcat":[
{"width":679.8,"height":504,"data":{"values":[{"panel":"D","x":807,"y":1466}]},"mark":{"type":"text","fontSize":74,"align":"left","baseline":"alphabetic"},"encoding":{"text":{"field":"panel"},"x":{"field":"x","type":"quantitative","scale":{"domain":[800,1479.8]},"axis":null},"y":{"field":"y","type":"quantitative","scale":{"domain":[1478.5,1982.5],"reverse":true},"axis":null}}},
{"width":489.7,"height":504,"view":{"fill":"#E5E5E5","stroke":null},
"data":{"values":[{"term":"GO:0045944~positive regulation of transcription by RNA polymerase II","n":11,"v":3.94},{"term":"GO:0045087~innate immune response","n":6,"v":2},{"term":"GO:0051092~positive regulation of NF−kappaB transcription factor activity","n":5,"v":2.72},{"term":"GO:0043123~positive regulation of canonical NF−kappaB signal transduction","n":5,"v":2.03},{"term":"GO:0007004~telomere maintenance via telomerase","n":5,"v":5.1},{"term":"GO:0046330~positive regulation of JNK cascade","n":4,"v":1.92},{"term":"GO:0032755~positive regulation of interleukin−6 production","n":4,"v":1.96},{"term":"GO:0031647~regulation of protein stability","n":4,"v":2.1},{"term":"GO:0007254~JNK cascade","n":4,"v":2.43},{"term":"GO:0060907~positive regulation of macrophage cytokine production","n":3,"v":1.96},{"term":"GO:0060412~ventricular septum morphogenesis","n":3,"v":1.5},{"term":"GO:0051403~stress−activated MAPK cascade","n":3,"v":1.92},{"term":"GO:0043330~response to exogenous dsRNA","n":3,"v":1.6},{"term":"GO:0032874~positive regulation of stress−activated MAPK cascade","n":3,"v":1.89},{"term":"GO:0032703~negative regulation of interleukin−2 production","n":3,"v":1.8}]},
"mark":{"type":"bar"},"encoding":{"y":{"field":"term","type":"nominal","sort":null,"scale":{"paddingInner":0.1,"paddingOuter":0},"axis":{"title":null,"domain":false,"grid":true,"gridColor":"white","gridWidth":3,"tickColor":"#7F7F7F","tickSize":5,"tickWidth":2,"labelFontSize":17.8,"labelColor":"#222222","labelPadding":8,"labelLimit":800}},"x":{"field":"n","type":"quantitative","scale":{"domain":[0,11],"nice":false,"padding":0},"axis":{"values":[0,1.25,2.5,3.75,5,6.25,7.5,8.75,10],"title":"Gene count","titleFontSize":24,"titleColor":"black","titlePadding":4,"grid":true,"gridColor":"white","gridWidth":{"expr":"datum.value%2.5==0?2.5:1"},"domain":false,"tickColor":"#7F7F7F","tickSize":5,"tickWidth":2,"tickOpacity":{"expr":"datum.value%2.5==0?1:0"},"labelFontSize":19,"labelColor":"#222222","labelOverlap":false,"labelPadding":3,"labelExpr":"datum.value%2.5==0?format(datum.value,'.1f'):''"}},"color":{"field":"v","type":"quantitative","scale":{"domain":[1.49,5.1],"range":["#000080","#FF0000"],"interpolate":"lab"},"legend":{"type":"gradient","title":"−log(FDR, 10)","orient":"none","legendX":1198,"legendY":152.5,"direction":"vertical","gradientLength":171,"gradientThickness":33,"gradientStrokeWidth":0,"values":[2,3,4,5],"titleFontSize":20.3,"titleFontWeight":"normal","titleColor":"black","titlePadding":4.5,"titleLimit":300,"labelFontSize":20,"labelColor":"black","labelOffset":4}}}}
],"spacing":0,"bounds":"flush"},
{"width":10,"height":591.5,"data":{"values":[{"a":1}]},"mark":{"type":"point","opacity":0},"encoding":{}},
{"hconcat":[
{"width":688.5,"height":503.6,"data":{"values":[{"panel":"E","x":838,"y":2081}]},"mark":{"type":"text","fontSize":72,"align":"left","baseline":"alphabetic"},"encoding":{"text":{"field":"panel"},"x":{"field":"x","type":"quantitative","scale":{"domain":[800,1488.5]},"axis":null},"y":{"field":"y","type":"quantitative","scale":{"domain":[2070,2573.6],"reverse":true},"axis":null}}},
{"width":373.4,"height":503.6,"view":{"fill":"#E5E5E5","stroke":null},
"data":{"values":[{"term":"hsa04621:NOD−like receptor signaling pathway","n":7,"v":6.53},{"term":"hsa05200:Pathways in cancer","n":4,"v":1.9},{"term":"hsa04659:Th17 cell differentiation","n":4,"v":4.06},{"term":"hsa04658:Th1 and Th2 cell differentiation","n":4,"v":4.27},{"term":"hsa04668:TNF signaling pathway","n":3,"v":2.48},{"term":"hsa04625:C−type lectin receptor signaling pathway","n":3,"v":2.64},{"term":"hsa04010:MAPK signaling pathway","n":3,"v":1.74},{"term":"hsa04657:IL−17 signaling pathway","n":2,"v":1.48},{"term":"hsa04623:Cytosolic DNA−sensing pathway","n":2,"v":1.64},{"term":"hsa04620:Toll−like receptor signaling pathway","n":2,"v":1.33},{"term":"hsa04064:NF−kappa B signaling pathway","n":2,"v":1.3},{"term":"hsa03015:mRNA surveillance pathway","n":2,"v":1.3},{"term":"hsa01523:Antifolate resistance","n":2,"v":2.2}]},
"mark":{"type":"bar"},"encoding":{"y":{"field":"term","type":"nominal","sort":null,"scale":{"paddingInner":0.1,"paddingOuter":0},"axis":{"title":null,"domain":false,"grid":true,"gridColor":"white","gridWidth":3,"tickColor":"#7F7F7F","tickSize":5,"tickWidth":2,"labelFontSize":17.8,"labelColor":"#222222","labelPadding":8,"labelLimit":800}},"x":{"field":"n","type":"quantitative","scale":{"domain":[0,7],"nice":false,"padding":0},"axis":{"values":[0,1,2,3,4,5,6],"title":"Gene count","titleFontSize":24,"titleColor":"black","titlePadding":4,"grid":true,"gridColor":"white","gridWidth":{"expr":"datum.value%2==0?2.5:1"},"domain":false,"tickColor":"#7F7F7F","tickSize":5,"tickWidth":2,"tickOpacity":{"expr":"datum.value%2==0?1:0"},"labelFontSize":19,"labelColor":"#222222","labelOverlap":false,"labelPadding":3,"labelExpr":"datum.value%2==0?format(datum.value,'d'):''"}},"color":{"field":"v","type":"quantitative","scale":{"domain":[1.27,6.53],"range":["#000080","#FF0000"],"interpolate":"lab"},"legend":{"type":"gradient","title":"−log(FDR, 10)","orient":"none","legendX":1090.6,"legendY":152,"direction":"vertical","gradientLength":171,"gradientThickness":33,"gradientStrokeWidth":0,"values":[2,3,4,5,6],"titleFontSize":20.3,"titleFontWeight":"normal","titleColor":"black","titlePadding":4.5,"titleLimit":300,"labelFontSize":20,"labelColor":"black","labelOffset":4}}}}
],"spacing":0,"bounds":"flush"}
],"spacing":0,"bounds":"flush","resolve":{"scale":{"color":"independent"}}}
],"spacing":0,"bounds":"flush"}
]}
